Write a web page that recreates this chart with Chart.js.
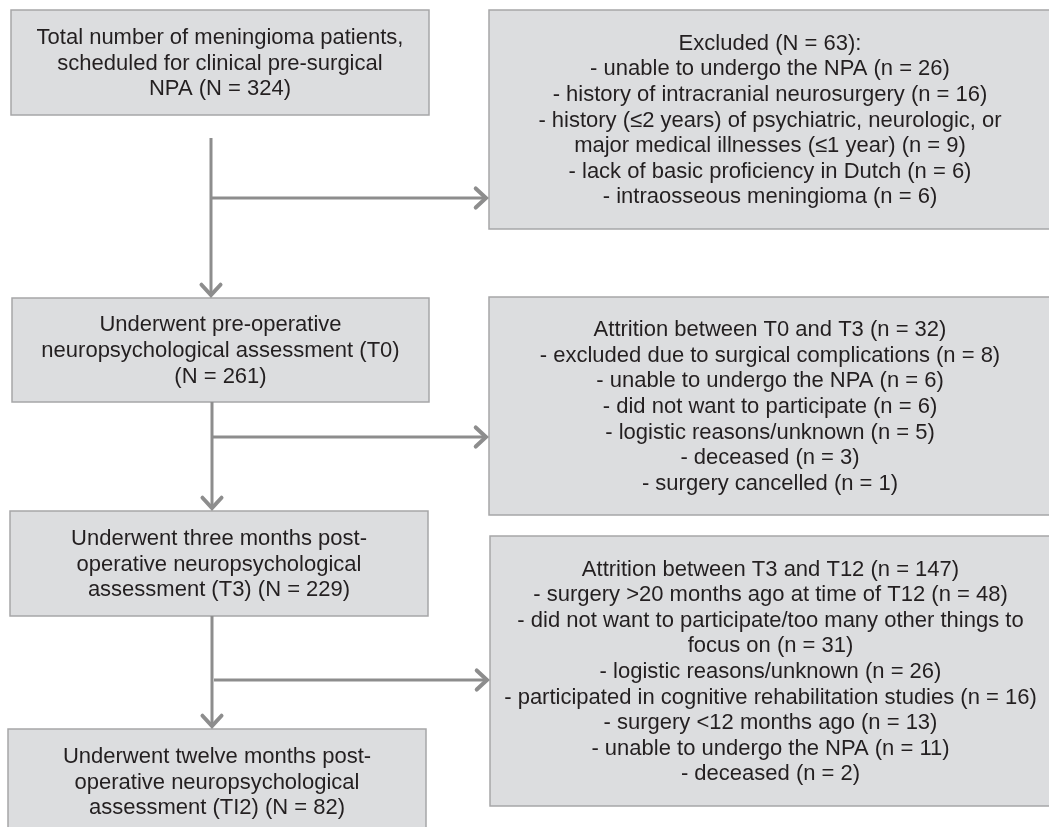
<!DOCTYPE html>
<html>
<head>
<meta charset="utf-8">
<script src="https://cdn.jsdelivr.net/npm/chart.js@4.4.1/dist/chart.umd.min.js"></script>
<style>
  html, body { margin: 0; padding: 0; background: #fff; }
</style>
</head>
<body>
<canvas id="flow" width="1049" height="827"></canvas>
<script>
// flow stages (left column)
const stageText = [
    ["Total number of meningioma patients,", "scheduled for clinical pre-surgical", "NPA (N = 324)"],
    ["Underwent pre-operative", "neuropsychological assessment (T0)", "(N = 261)"],
    ["Underwent three months post-", "operative neuropsychological", "assessment (T3) (N = 229)"],
    ["Underwent twelve months post-", "operative neuropsychological", "assessment (TI2) (N = 82)"],
];

// losses between stages (right column)
const lossText = [
    [
        "Excluded (N = 63):",
        "- unable to undergo the NPA (n = 26)",
        "- history of intracranial neurosurgery (n = 16)",
        "- history (\u22642 years) of psychiatric, neurologic, or",
        "major medical illnesses (\u22641 year) (n = 9)",
        "- lack of basic proficiency in Dutch (n = 6)",
        "- intraosseous meningioma (n = 6)",
    ],
    [
        "Attrition between T0 and T3 (n = 32)",
        "- excluded due to surgical complications (n = 8)",
        "- unable to undergo the NPA (n = 6)",
        "- did not want to participate (n = 6)",
        "- logistic reasons/unknown (n = 5)",
        "- deceased (n = 3)",
        "- surgery cancelled (n = 1)",
    ],
    [
        "Attrition between T3 and T12 (n = 147)",
        "- surgery >20 months ago at time of T12 (n = 48)",
        "- did not want to participate/too many other things to",
        "focus on (n = 31)",
        "- logistic reasons/unknown (n = 26)",
        "- participated in cognitive rehabilitation studies (n = 16)",
        "- surgery <12 months ago (n = 13)",
        "- unable to undergo the NPA (n = 11)",
        "- deceased (n = 2)",
    ],
];

// layout, in axis units (0..1049 across, 0..827 down)
const stageBoxes = [
    { x0: 11, x1: 429, y0: 10, y1: 115 },
    { x0: 12, x1: 429, y0: 298, y1: 402 },
    { x0: 10, x1: 428, y0: 511, y1: 616 },
    { x0: 8, x1: 426, y0: 729, y1: 834 },
];
const lossBoxes = [
    { x0: 489, x1: 1051, y0: 10, y1: 229 },
    { x0: 489, x1: 1051, y0: 297, y1: 515 },
    { x0: 490, x1: 1051, y0: 536, y1: 806 },
];
// trunk x, trunk start/end y, branch y, branch start/end x
const arrows = [
    { x: 211, yFrom: 138, yTo: 297, yBranch: 198, bxFrom: 211, bxTo: 488 },
    { x: 212, yFrom: 402, yTo: 510, yBranch: 437, bxFrom: 212, bxTo: 488 },
    { x: 212, yFrom: 616, yTo: 728, yBranch: 680, bxFrom: 214, bxTo: 489 },
];

const arrowColor = "#8d8d8d";
const fontSize = 22;
const lineGap = 25.6;

const shaftSets = [];
arrows.forEach((a) => {
    shaftSets.push({ data: [{ x: a.x, y: a.yFrom }, { x: a.x, y: a.yTo - 2 }] });
    shaftSets.push({ data: [{ x: a.bxFrom, y: a.yBranch }, { x: a.bxTo - 2, y: a.yBranch }] });
});

const boxPlugin = {
    id: "flowBoxes",
    beforeDatasetsDraw(chart) {
        const { ctx, scales } = chart;
        const sx = scales.x, sy = scales.y;
        const all = stageBoxes.map((b, i) => [b, stageText[i]])
            .concat(lossBoxes.map((b, i) => [b, lossText[i]]));
        ctx.save();
        all.forEach(([b, lines]) => {
            const x0 = sx.getPixelForValue(b.x0), x1 = sx.getPixelForValue(b.x1);
            const y0 = sy.getPixelForValue(b.y0), y1 = sy.getPixelForValue(b.y1);
            ctx.fillStyle = "#dcdddf";
            ctx.fillRect(x0, y0, x1 - x0, y1 - y0);
            ctx.strokeStyle = "#a6a6a8";
            ctx.lineWidth = 1.5;
            ctx.strokeRect(x0, y0, x1 - x0, y1 - y0);

            ctx.fillStyle = "#231f20";
            ctx.font = fontSize + "px 'Liberation Sans', Arial, sans-serif";
            ctx.textAlign = "center";
            ctx.textBaseline = "middle";
            const cx = (x0 + x1) / 2;
            const cy = (y0 + y1) / 2;
            const top = cy - (lines.length - 1) * lineGap / 2;
            lines.forEach((t, k) => ctx.fillText(t, cx, top + k * lineGap + 1));
        });
        ctx.restore();
    },
    afterDatasetsDraw(chart) {
        const { ctx, scales } = chart;
        const sx = scales.x, sy = scales.y;
        ctx.save();
        ctx.strokeStyle = arrowColor;
        ctx.lineWidth = 4;
        ctx.lineCap = "round";
        ctx.lineJoin = "miter";
        const head = (tx, ty, dx, dy) => {
            const L = 14, ang = Math.PI / 4.2;
            const back = Math.atan2(-dy, -dx);
            ctx.beginPath();
            ctx.moveTo(tx + L * Math.cos(back + ang), ty + L * Math.sin(back + ang));
            ctx.lineTo(tx, ty);
            ctx.lineTo(tx + L * Math.cos(back - ang), ty + L * Math.sin(back - ang));
            ctx.stroke();
        };
        arrows.forEach((a) => {
            head(sx.getPixelForValue(a.x), sy.getPixelForValue(a.yTo) - 2, 0, 1);
            head(sx.getPixelForValue(a.bxTo) - 2, sy.getPixelForValue(a.yBranch), 1, 0);
        });
        ctx.restore();
    },
};

new Chart(document.getElementById("flow"), {
    type: "scatter",
    data: {
        datasets: shaftSets.map((s) => ({
            data: s.data,
            showLine: true,
            borderColor: arrowColor,
            borderWidth: 3,
            pointRadius: 0,
            fill: false,
        })),
    },
    options: {
        responsive: false,
        animation: false,
        layout: { padding: 0 },
        scales: {
            x: { type: "linear", min: 0, max: 1049, display: false },
            y: { type: "linear", min: 0, max: 827, reverse: true, display: false },
        },
        plugins: {
            legend: { display: false },
            tooltip: { enabled: false },
        },
    },
    plugins: [boxPlugin],
});
</script>
</body>
</html>
